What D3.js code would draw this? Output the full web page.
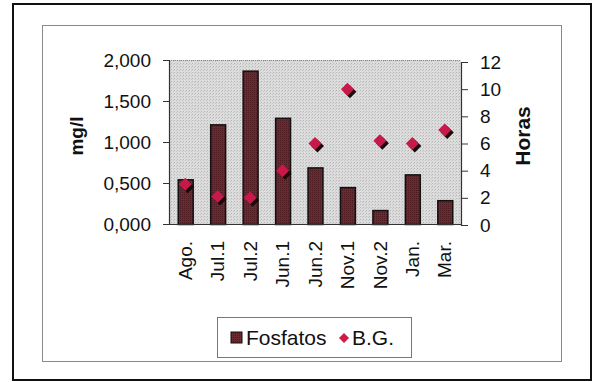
<!DOCTYPE html>
<html>
<head>
<meta charset="utf-8">
<script src="https://cdn.jsdelivr.net/npm/d3@7"></script>
<style>
  html, body { margin: 0; padding: 0; background: #fff; }
  svg { display: block; }
  text { font-family: "Liberation Sans", Arial, sans-serif; fill: #111; }
</style>
</head>
<body>
<svg id="chart" width="599" height="382"></svg>
<script>
// Sampling campaigns
const categories = ["Ago.", "Jul.1", "Jul.2", "Jun.1", "Jun.2", "Nov.1", "Nov.2", "Jan.", "Mar."];
// Phosphate concentration (mg/l), left axis
const fosfatos = [0.545, 1.215, 1.87, 1.295, 0.69, 0.45, 0.17, 0.605, 0.29];
// B.G. time (hours), right axis
const bg = [3, 2.1, 2, 4, 6, 10, 6.2, 6, 7];
const leftTicks = [0, 0.5, 1, 1.5, 2];
const leftLabels = ["0,000", "0,500", "1,000", "1,500", "2,000"];
const rightTicks = [0, 2, 4, 6, 8, 10, 12];

const svg = d3.select("#chart");
const plot = { left: 169, right: 461, top: 60, bottom: 224 };

// textures
const defs = svg.append("defs");
const bgPat = defs.append("pattern").attr("id", "stipple")
  .attr("width", 3).attr("height", 3).attr("patternUnits", "userSpaceOnUse");
bgPat.append("rect").attr("width", 3).attr("height", 3).attr("fill", "#dcdcdc");
bgPat.append("rect").attr("x", 0).attr("y", 0).attr("width", 1).attr("height", 1).attr("fill", "#b5b5b5");
bgPat.append("rect").attr("x", 2).attr("y", 1).attr("width", 1).attr("height", 1).attr("fill", "#c6c6c6");

const barPat = defs.append("pattern").attr("id", "barfill")
  .attr("width", 2).attr("height", 2).attr("patternUnits", "userSpaceOnUse");
barPat.append("rect").attr("width", 2).attr("height", 2).attr("fill", "#6a2a30");
barPat.append("rect").attr("width", 1).attr("height", 1).attr("fill", "#4e1a20");

// frames
svg.append("rect").attr("x", 13).attr("y", 4).attr("width", 578).attr("height", 376)
  .attr("fill", "none").attr("stroke", "#111").attr("stroke-width", 2);
svg.append("rect").attr("x", 42.5).attr("y", 25.5).attr("width", 519).attr("height", 336)
  .attr("fill", "none").attr("stroke", "#8a8a8a").attr("stroke-width", 1);

const x = d3.scaleBand().domain(categories).range([plot.left, plot.right]).paddingInner(0.54).paddingOuter(0.27);
const yL = d3.scaleLinear().domain([0, 2]).range([plot.bottom, plot.top]);
const yR = d3.scaleLinear().domain([0, 12]).range([plot.bottom + 1, plot.top + 2]);

// plot background
svg.append("rect").attr("x", plot.left).attr("y", plot.top)
  .attr("width", plot.right - plot.left).attr("height", plot.bottom - plot.top)
  .attr("fill", "url(#stipple)");
svg.append("line").attr("x1", plot.left).attr("x2", plot.right).attr("y1", plot.top + 0.5).attr("y2", plot.top + 0.5)
  .attr("stroke", "#888").attr("stroke-dasharray", "1,1");

// bars
svg.append("g").selectAll("rect").data(fosfatos).join("rect")
  .attr("x", (d, i) => x(categories[i]) + 0.5)
  .attr("y", d => yL(d) + 0.5)
  .attr("width", x.bandwidth())
  .attr("height", d => plot.bottom - yL(d))
  .attr("fill", "url(#barfill)")
  .attr("stroke", "#111").attr("stroke-width", 1.5);

// axes
const leftAxis = d3.axisLeft(yL).tickValues(leftTicks).tickSize(6).tickPadding(12)
  .tickFormat((d, i) => leftLabels[i]);
const gL = svg.append("g").attr("transform", `translate(${plot.left},0)`).call(leftAxis);
const gR = svg.append("g").attr("transform", `translate(${plot.right},0)`)
  .call(d3.axisRight(yR).tickValues(rightTicks).tickSize(7).tickPadding(12));
const gB = svg.append("g").attr("transform", `translate(0,${plot.bottom})`)
  .call(d3.axisBottom(x).tickSize(0).tickPadding(10));

[gL, gR, gB].forEach(g => {
  g.select(".domain").attr("stroke", "#333").attr("stroke-width", 1.2);
  g.selectAll(".tick line").attr("stroke", "#333");
  g.selectAll("text").style("font-family", '"Liberation Sans", Arial, sans-serif').style("font-size", "19px").attr("fill", "#111");
});
gB.select(".domain").attr("d", `M${plot.left},0.5H${plot.right}`);
gB.selectAll(".tick text")
  .attr("transform", "rotate(-90)")
  .attr("text-anchor", "end")
  .attr("x", -17).attr("y", 0).attr("dy", "0.35em");

// axis titles
svg.append("text").attr("transform", "translate(83,136) rotate(-90)")
  .attr("text-anchor", "middle").style("font-size", "19px").style("font-weight", "bold").text("mg/l");
svg.append("text").attr("transform", "translate(530,136) rotate(-90)")
  .attr("text-anchor", "middle").style("font-size", "21px").style("font-weight", "bold").text("Horas");

// B.G. markers with drop shadow
const diamond = "M0,-6.5L6.5,0L0,6.5L-6.5,0Z";
const cx = (i) => x(categories[i]) + x.bandwidth() / 2;
svg.append("g").selectAll("path").data(bg).join("path")
  .attr("d", diamond)
  .attr("transform", (d, i) => `translate(${cx(i) + 2.5},${yR(d) + 2.5})`)
  .attr("fill", "#1a0a0c");
svg.append("g").selectAll("path").data(bg).join("path")
  .attr("d", diamond)
  .attr("transform", (d, i) => `translate(${cx(i)},${yR(d)})`)
  .attr("fill", "#c8194a");

// legend
const lg = svg.append("g").attr("transform", "translate(217,317)");
lg.append("rect").attr("x", 0.5).attr("y", 0.5).attr("width", 194).attr("height", 40)
  .attr("fill", "#fff").attr("stroke", "#777");
lg.append("rect").attr("x", 14).attr("y", 15).attr("width", 11).attr("height", 11)
  .attr("fill", "url(#barfill)").attr("stroke", "#111").attr("stroke-width", 1);
lg.append("text").attr("x", 29).attr("y", 28).style("font-size", "21px").text("Fosfatos");
lg.append("path").attr("d", "M0,-5L5,0L0,5L-5,0Z")
  .attr("transform", "translate(127,21)").attr("fill", "#d01a48");
lg.append("text").attr("x", 135).attr("y", 28).style("font-size", "21px").text("B.G.");
</script>
</body>
</html>
